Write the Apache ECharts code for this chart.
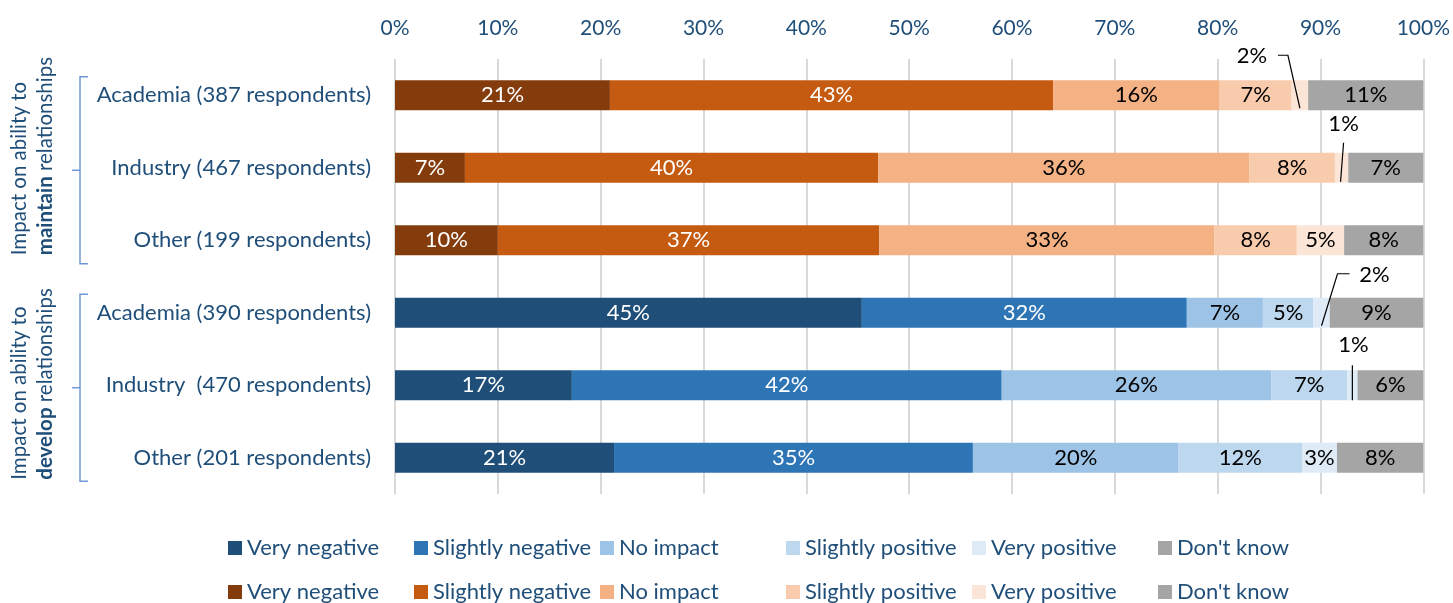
<!DOCTYPE html>
<html>
<head>
<meta charset="utf-8">
<script src="https://cdn.jsdelivr.net/npm/echarts@6/dist/echarts.min.js"></script>
<style>
  html, body { margin: 0; padding: 0; background: #fff; }
  #chart { width: 1453px; height: 603px; }
</style>
</head>
<body>
<div id="chart"></div>
<script>
// Row labels, top to bottom (first three: "maintain", last three: "develop")
const categories = [
  'Academia (387 respondents)',
  'Industry (467 respondents)',
  'Other (199 respondents)',
  'Academia (390 respondents)',
  'Industry  (470 respondents)',
  'Other (201 respondents)'
];
const levels = ['Very negative', 'Slightly negative', 'No impact', 'Slightly positive', 'Very positive', "Don't know"];

// Share of respondents (%) — rows: Academia, Industry, Other
const maintainVeryNegative     = [20.9,  6.8, 10.0];
const maintainSlightlyNegative = [43.1, 40.2, 37.1];
const maintainNoImpact         = [16.2, 36.1, 32.6];
const maintainSlightlyPositive = [ 7.0,  8.3,  8.0];
const maintainVeryPositive     = [ 1.6,  1.3,  4.6];
const maintainDontKnow         = [11.2,  7.3,  7.7];

const developVeryNegative      = [45.4, 17.2, 21.3];
const developSlightlyNegative  = [31.6, 41.8, 34.9];
const developNoImpact          = [ 7.4, 26.2, 20.0];
const developSlightlyPositive  = [ 4.9,  7.4, 12.0];
const developVeryPositive      = [ 1.6,  1.0,  3.4];
const developDontKnow          = [ 9.1,  6.4,  8.4];

const xTickStep = 10;

const developColors  = ['#1f4e79', '#2e75b6', '#9dc3e6', '#bdd7ee', '#deebf7', '#a5a5a5'];
const maintainColors = ['#843c0c', '#c55a11', '#f4b183', '#f8cbad', '#fbe5d6', '#a5a5a5'];

const FONT = 'Lato, "Open Sans", sans-serif';
const TEXT_BLUE = '#1f4e79';
const BRACKET = '#7198d6';
const LABEL_SIZE = 22;

const groups = [
  { key: 'develop', rows: [3, 4, 5], colors: developColors,
    title: 'develop',
    values: [developVeryNegative, developSlightlyNegative, developNoImpact,
             developSlightlyPositive, developVeryPositive, developDontKnow] },
  { key: 'maintain', rows: [0, 1, 2], colors: maintainColors,
    title: 'maintain',
    values: [maintainVeryNegative, maintainSlightlyNegative, maintainNoImpact,
             maintainSlightlyPositive, maintainVeryPositive, maintainDontKnow] }
];

// Thin segments get their label outside the bar with a leader line.
// Offsets are relative to the segment centre.
const callouts = {
  'maintain|Very positive|0': { label: [-48, -39], line: [[-22, -40], [-12, -40], [0, 13]] },
  'maintain|Very positive|1': { label: [2, -44],   line: [[2, -25], [-1, 14]] },
  'develop|Very positive|0':  { label: [53, -38],  line: [[28, -39], [16, -39], [0, 13]] },
  'develop|Very positive|1':  { label: [1, -40],   line: [[0, -20], [0, 15]] }
};

const pct = v => Math.round(v) + '%';

const series = [];
groups.forEach(g => {
  levels.forEach((lvl, li) => {
    const name = g.key + '|' + lvl;
    const data = categories.map(() => '-');
    g.values[li].forEach((v, k) => {
      const item = { value: v };
      if (callouts[name + '|' + k]) item.label = { show: false };
      data[g.rows[k]] = item;
    });
    series.push({
      name,
      type: 'bar',
      stack: 'share',
      barWidth: 30,
      data,
      itemStyle: { color: g.colors[li] },
      label: {
        show: true,
        position: 'inside',
        color: li < 2 ? '#ffffff' : '#000000',
        fontSize: LABEL_SIZE,
        fontFamily: FONT,
        formatter: p => pct(p.value)
      },
      emphasis: { disabled: true },
      animation: false
    });
  });
});

const legends = [];
groups.forEach((g, gi) => {
  levels.forEach((lvl, li) => {
    legends.push({
      data: [g.key + '|' + lvl],
      left: 228 + 186 * li,
      top: gi === 0 ? 537 : 581,
      padding: 0,
      icon: 'rect',
      itemWidth: 14,
      itemHeight: 14,
      itemGap: 0,
      selectedMode: false,
      formatter: n => n.split('|')[1],
      textStyle: { color: TEXT_BLUE, fontSize: 22, fontFamily: FONT }
    });
  });
});

const chart = echarts.init(document.getElementById('chart'));
chart.setOption({
  animation: false,
  grid: { left: 395, right: 29, top: 59, bottom: 109, containLabel: false },
  xAxis: {
    type: 'value',
    position: 'top',
    min: 0,
    max: 100,
    interval: xTickStep,
    axisLine: { show: false },
    axisTick: { show: false },
    axisLabel: { color: TEXT_BLUE, fontSize: 21, fontFamily: FONT, margin: 20, formatter: '{value}%' },
    splitLine: { show: true, lineStyle: { color: '#d9d9d9', width: 2 } }
  },
  yAxis: {
    type: 'category',
    inverse: true,
    data: categories,
    axisLine: { show: false },
    axisTick: { show: false },
    axisLabel: { color: TEXT_BLUE, fontSize: 22, fontFamily: FONT, margin: 24 }
  },
  legend: legends,
  series
});

// Decorations: group brackets, rotated group titles and callout labels
function px(v, row) { return chart.convertToPixel({ gridIndex: 0 }, [v, row]); }

const graphics = [];
groups.forEach(g => {
  const top = px(0, g.rows[0])[1] - 18.5;
  const bottom = px(0, g.rows[2])[1] + 23.5;
  const mid = (top + bottom) / 2;
  graphics.push({
    type: 'polyline',
    shape: { points: [[88, top], [80, top], [80, bottom], [88, bottom]] },
    style: { stroke: BRACKET, lineWidth: 1.5, fill: null }
  });
  graphics.push({
    type: 'line',
    shape: { x1: 72, y1: mid, x2: 80, y2: mid },
    style: { stroke: BRACKET, lineWidth: 1.5 }
  });
  const textBottom = g.key === 'maintain' ? px(0, g.rows[2])[1] + 15 : px(0, g.rows[2])[1] + 22;
  graphics.push({
    type: 'text',
    x: 32,
    y: textBottom,
    rotation: Math.PI / 2,
    style: {
      text: '{n|Impact on ability to}\n{b|' + g.title + '}{n| relationships}',
      align: 'left',
      verticalAlign: 'middle',
      rich: {
        n: { fontSize: 20.5, fontFamily: FONT, fill: TEXT_BLUE, lineHeight: 26 },
        b: { fontSize: 20.5, fontFamily: FONT, fill: TEXT_BLUE, lineHeight: 26, fontWeight: 'bold' }
      }
    }
  });

  levels.forEach((lvl, li) => {
    g.rows.forEach((row, k) => {
      const spec = callouts[g.key + '|' + lvl + '|' + k];
      if (!spec) return;
      let start = 0;
      for (let j = 0; j < li; j++) start += g.values[j][k];
      const v = g.values[li][k];
      const c = px(start + v / 2, row);
      graphics.push({
        type: 'text',
        z: 100,
        x: c[0] + spec.label[0],
        y: c[1] + spec.label[1],
        style: {
          text: pct(v),
          align: 'center',
          verticalAlign: 'middle',
          fill: '#000000',
          fontSize: LABEL_SIZE,
          fontFamily: FONT
        }
      });
      graphics.push({
        type: 'polyline',
        z: 100,
        shape: { points: spec.line.map(p => [c[0] + p[0], c[1] + p[1]]) },
        style: { stroke: '#000000', lineWidth: 1.2, fill: null }
      });
    });
  });
});

chart.setOption({ graphic: graphics });
</script>
</body>
</html>
